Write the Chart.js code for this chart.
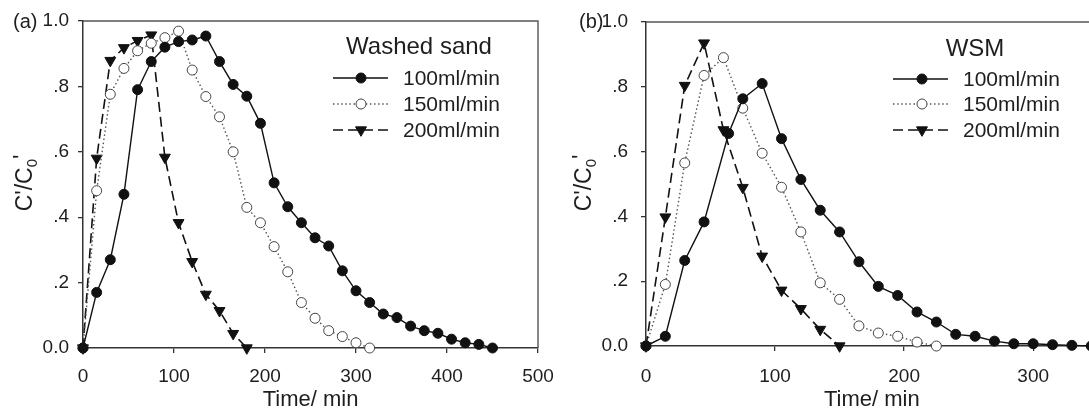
<!DOCTYPE html>
<html><head><meta charset="utf-8">
<script src="https://cdn.jsdelivr.net/npm/chart.js@4.4.0/dist/chart.umd.min.js"></script>
<style>
html,body{margin:0;padding:0;overflow:hidden;background:#fff;width:1089px;height:417px;position:relative;}
#ca{position:absolute;left:0;top:0;}
#cb{position:absolute;left:545px;top:0;}
</style></head><body>
<canvas id="ca" width="565" height="417"></canvas>
<canvas id="cb" width="560" height="417"></canvas>
<script>
// ---------- data ----------
const seriesLabels = ['100ml/min', '150ml/min', '200ml/min'];

// (a) Washed sand
const sandTime100 = [0,15,30,45,60,75,90,105,120,135,150,165,180,195,210,225,240,255,270,285,300,315,330,345,360,375,390,405,420,435,450];
const sandC100    = [0,0.17,0.27,0.47,0.79,0.876,0.92,0.937,0.942,0.954,0.876,0.806,0.77,0.687,0.505,0.432,0.383,0.337,0.312,0.236,0.175,0.139,0.104,0.093,0.067,0.053,0.045,0.027,0.016,0.011,0];
const sandTime150 = [0,15,30,45,60,75,90,105,120,135,150,165,180,195,210,225,240,255,270,285,300,315];
const sandC150    = [0,0.481,0.776,0.855,0.909,0.932,0.949,0.969,0.85,0.769,0.707,0.60,0.43,0.383,0.31,0.233,0.139,0.091,0.053,0.035,0.016,0];
const sandTime200 = [0,15,30,45,60,75,90,105,120,135,150,165,180];
const sandC200    = [0,0.58,0.879,0.918,0.94,0.957,0.583,0.383,0.264,0.164,0.114,0.044,0];

// (b) WSM
const wsmTime100 = [0,15,30,45,64,75,90,105,120,135,150,165,180,195,210,225,240,255,270,285,300,315,330,345];
const wsmC100    = [0,0.03,0.264,0.383,0.656,0.763,0.81,0.64,0.514,0.419,0.352,0.26,0.184,0.156,0.105,0.074,0.036,0.03,0.015,0.007,0.007,0.004,0.002,0];
const wsmTime150 = [0,15,30,45,60,75,90,105,120,135,150,165,180,195,210,225];
const wsmC150    = [0,0.19,0.565,0.835,0.89,0.734,0.595,0.49,0.352,0.195,0.144,0.062,0.04,0.03,0.012,0];
const wsmTime200 = [0,15,30,45,60,75,90,105,120,135,150];
const wsmC200    = [0,0.398,0.804,0.935,0.667,0.489,0.277,0.172,0.115,0.051,0];

// ticks
const yTickValues = [0,0.2,0.4,0.6,0.8,1.0];
const yTickLabels = ['0.0','.2','.4','.6','.8','1.0'];
const xTickValuesA = [0,100,200,300,400,500];
const xTickLabelsA = ['0','100','200','300','400','500'];
const xTickValuesB = [0,100,200,300];
const xTickLabelsB = ['0','100','200','300'];

const xTitle = 'Time/ min';
const yTitleParts = ["C'/C", '0', "'"];
const panelTitles = ['Washed sand', 'WSM'];
const panelLetters = ['(a)', '(b)'];

// ---------- styling ----------
const FONT = '"Liberation Sans", Arial, Helvetica, sans-serif';
Chart.defaults.font.family = FONT;
Chart.defaults.color = '#1e1e1e';

const styles = [
  {borderColor:'#111', borderWidth:1.4, borderDash:[], pointStyle:'circle', pointRadius:5, pointBackgroundColor:'#111', pointBorderColor:'#111', pointRotation:0},
  {borderColor:'#555', borderWidth:1.4, borderDash:[1.5,2.6], pointStyle:'circle', pointRadius:5, pointBackgroundColor:'#fff', pointBorderColor:'#444', pointRotation:0},
  {borderColor:'#111', borderWidth:1.6, borderDash:[10,5], pointStyle:'triangle', pointRadius:6.3, pointBackgroundColor:'#111', pointBorderColor:'#111', pointRotation:180}
];

function makeDatasets(times, values) {
  return times.map((t, k) => Object.assign({
    label: seriesLabels[k],
    data: t.map((x, i) => ({x: x, y: values[k][i]})),
    showLine: true, tension: 0, clip: false, pointBorderWidth: 1, pointHoverRadius: 5
  }, styles[k]));
}

function drawMarker(ctx, ds, x, y) {
  ctx.save();
  ctx.setLineDash([]);
  ctx.fillStyle = ds.pointBackgroundColor;
  ctx.strokeStyle = ds.pointBorderColor;
  ctx.lineWidth = 1;
  ctx.beginPath();
  const r = ds.pointRadius;
  if (ds.pointStyle === 'triangle') {
    ctx.moveTo(x, y + r);
    ctx.lineTo(x - r * Math.sin(Math.PI / 3), y - r / 2);
    ctx.lineTo(x + r * Math.sin(Math.PI / 3), y - r / 2);
    ctx.closePath();
  } else {
    ctx.arc(x, y, r, 0, Math.PI * 2);
  }
  ctx.fill(); ctx.stroke();
  ctx.restore();
}

const decor = {
  id: 'decor',
  afterDraw(chart, args, o) {
    const ctx = chart.ctx, a = chart.chartArea;
    ctx.save();
    // top + right frame
    ctx.strokeStyle = '#555'; ctx.lineWidth = 1.4;
    ctx.beginPath();
    ctx.moveTo(a.left, a.top); ctx.lineTo(a.right, a.top); ctx.lineTo(a.right, a.bottom);
    ctx.stroke();
    ctx.fillStyle = '#1e1e1e';
    // panel letter
    ctx.font = '20px ' + FONT; ctx.textAlign = 'left'; ctx.textBaseline = 'middle';
    ctx.fillText(o.letter, o.letterX, o.letterY);
    // legend title
    ctx.font = '24px ' + FONT; ctx.textAlign = 'center';
    ctx.fillText(o.title, o.titleX, o.titleY);
    // legend rows
    chart.data.datasets.forEach((ds, i) => {
      const y = o.rowY[i];
      ctx.save();
      ctx.strokeStyle = ds.borderColor; ctx.lineWidth = ds.borderWidth;
      ctx.setLineDash(ds.borderDash || []);
      ctx.beginPath(); ctx.moveTo(o.lineX0, y); ctx.lineTo(o.lineX1, y); ctx.stroke();
      ctx.restore();
      drawMarker(ctx, ds, o.markX, y);
      ctx.fillStyle = '#1e1e1e';
      ctx.font = '21px ' + FONT; ctx.textAlign = 'left'; ctx.textBaseline = 'middle';
      ctx.fillText(ds.label, o.textX, y + 1);
    });
    // y axis title with subscript
    ctx.translate(o.yTitleX, o.yTitleY);
    ctx.rotate(-Math.PI / 2);
    ctx.textBaseline = 'alphabetic'; ctx.textAlign = 'left';
    const big = '23px ' + FONT, small = '15px ' + FONT;
    ctx.font = big; const w0 = ctx.measureText(yTitleParts[0]).width;
    ctx.font = small; const w1 = ctx.measureText(yTitleParts[1]).width;
    ctx.font = big; const w2 = ctx.measureText(yTitleParts[2]).width;
    let x = -(w0 + w1 + w2) / 2;
    ctx.font = big; ctx.fillText(yTitleParts[0], x, 0); x += w0;
    ctx.font = small; ctx.fillText(yTitleParts[1], x, 5); x += w1;
    ctx.font = big; ctx.fillText(yTitleParts[2], x, -2);
    ctx.restore();
  }
};

function zeroPad(s) { s.paddingLeft = 0; s.paddingRight = 0; s.paddingTop = 0; s.paddingBottom = 0; }

function makeChart(id, datasets, xMax, xVals, xLabels, yAxisW, xAxisH, pad, yPad, xPad, deco) {
  return new Chart(document.getElementById(id), {
    type: 'line',
    data: {datasets: datasets},
    options: {
      responsive: false, animation: false,
      layout: {padding: pad},
      plugins: {legend: {display: false}, tooltip: {enabled: false}, decor: deco},
      scales: {
        x: {
          type: 'linear', min: 0, max: xMax,
          afterBuildTicks: s => { s.ticks = xVals.map(v => ({value: v})); },
          afterFit: s => { s.height = xAxisH; zeroPad(s); },
          grid: {display: true, drawOnChartArea: false, drawTicks: true, tickLength: 5, color: '#333', lineWidth: 1.3},
          border: {display: true, color: '#333', width: 1.5},
          ticks: {font: {size: 19}, padding: xPad, maxRotation: 0, autoSkip: false, callback: (v, i) => xLabels[i]},
          title: {display: true, text: xTitle, font: {size: 22}, padding: {top: 0, bottom: 4}}
        },
        y: {
          type: 'linear', min: 0, max: 1,
          afterBuildTicks: s => { s.ticks = yTickValues.map(v => ({value: v})); },
          afterFit: s => { s.width = yAxisW; zeroPad(s); },
          grid: {display: true, drawOnChartArea: false, drawTicks: true, tickLength: 5, color: '#333', lineWidth: 1.3},
          border: {display: true, color: '#333', width: 1.5},
          ticks: {font: {size: 19}, padding: yPad, autoSkip: false, callback: (v, i) => yTickLabels[i]}
        }
      }
    },
    plugins: [decor]
  });
}

makeChart('ca',
  makeDatasets([sandTime100, sandTime150, sandTime200], [sandC100, sandC150, sandC200]),
  500, xTickValuesA, xTickLabelsA, 83, 69, {left: 0, right: 27, top: 21, bottom: 0}, 9, 12,
  {letter: panelLetters[0], letterX: 13, letterY: 22, title: panelTitles[0], titleX: 419, titleY: 47,
   rowY: [78, 104, 130], lineX0: 333, lineX1: 388, markX: 361, textX: 403, yTitleX: 32, yTitleY: 183});

makeChart('cb',
  makeDatasets([wsmTime100, wsmTime150, wsmTime200], [wsmC100, wsmC150, wsmC200]),
  350, xTickValuesB, xTickLabelsB, 101, 71, {left: 0, right: 7, top: 22, bottom: 0}, 13, 14,
  {letter: panelLetters[1], letterX: 34, letterY: 22, title: panelTitles[1], titleX: 430, titleY: 49,
   rowY: [79, 104, 130], lineX0: 348, lineX1: 403, markX: 377, textX: 418, yTitleX: 46, yTitleY: 183});
</script>
</body></html>
